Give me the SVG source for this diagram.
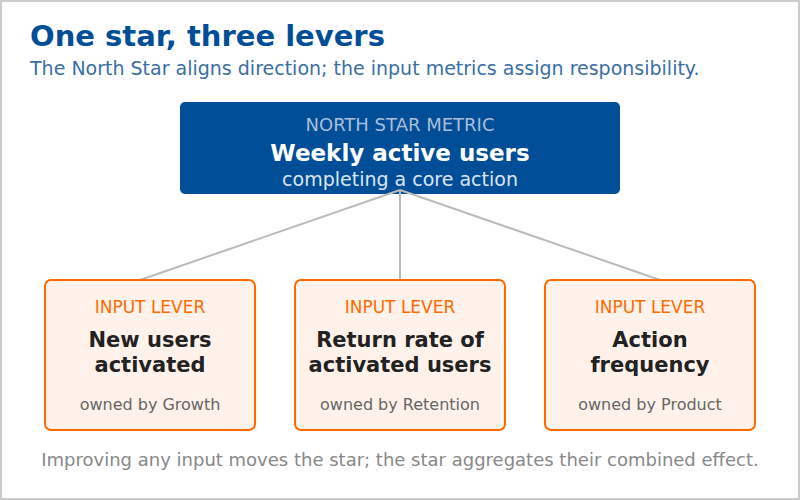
<svg xmlns="http://www.w3.org/2000/svg" width="800" height="500" viewBox="0 0 800 500">
<style>
text{font-family:"DejaVu Sans","Liberation Sans",sans-serif}
.title{font-size:29px;font-weight:bold;fill:#004E98}
.sub{font-size:19px;fill:#3A6EA5}
.lever{fill:#FFF2EA;stroke:#FF6A00;stroke-width:2}
.lk{font-size:17px;fill:#FF6A00;text-anchor:middle}
.lt{font-size:21px;font-weight:bold;fill:#222;text-anchor:middle}
.lo{font-size:16px;fill:#666;text-anchor:middle}
.conn line{stroke:#BBBBBB;stroke-width:2}
</style>
<rect x="1" y="1" width="798" height="498" fill="#fff" stroke="#CCCCCC" stroke-width="2"/>
<text class="title" x="30" y="46">One star, three levers</text>
<text class="sub" x="30" y="75">The North Star aligns direction; the input metrics assign responsibility.</text>
<g id="north-star">
<rect x="180" y="102" width="440" height="92" rx="5" fill="#004E98"/>
<text x="400" y="131" font-size="18" fill="#A9BFDC" text-anchor="middle">NORTH STAR METRIC</text>
<text x="400" y="161" font-size="23" font-weight="bold" fill="#fff" text-anchor="middle">Weekly active users</text>
<text x="400" y="186" font-size="19" fill="#DCE6F2" text-anchor="middle">completing a core action</text>
</g>
<g id="connectors" class="conn">
<line x1="400" y1="190" x2="140" y2="280"/>
<line x1="400" y1="190" x2="400" y2="280"/>
<line x1="400" y1="190" x2="660" y2="280"/>
</g>
<g id="lever-growth">
<rect class="lever" x="45" y="280" width="210" height="150" rx="6"/>
<text class="lk" x="150" y="313">INPUT LEVER</text>
<text class="lt" x="150" y="347">New users</text>
<text class="lt" x="150" y="372">activated</text>
<text class="lo" x="150" y="410">owned by Growth</text>
</g>
<g id="lever-retention">
<rect class="lever" x="295" y="280" width="210" height="150" rx="6"/>
<text class="lk" x="400" y="313">INPUT LEVER</text>
<text class="lt" x="400" y="347">Return rate of</text>
<text class="lt" x="400" y="372">activated users</text>
<text class="lo" x="400" y="410">owned by Retention</text>
</g>
<g id="lever-product">
<rect class="lever" x="545" y="280" width="210" height="150" rx="6"/>
<text class="lk" x="650" y="313">INPUT LEVER</text>
<text class="lt" x="650" y="347">Action</text>
<text class="lt" x="650" y="372">frequency</text>
<text class="lo" x="650" y="410">owned by Product</text>
</g>
<text x="400" y="466" font-size="18" fill="#888" text-anchor="middle">Improving any input moves the star; the star aggregates their combined effect.</text>
</svg>
